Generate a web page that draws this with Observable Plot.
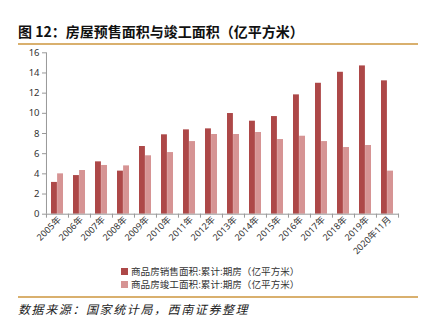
<!DOCTYPE html>
<html><head><meta charset="utf-8">
<script src="https://cdn.jsdelivr.net/npm/d3@7"></script>
<script src="https://cdn.jsdelivr.net/npm/@observablehq/plot@0.6"></script>
<style>
body{margin:0;width:425px;height:323px;position:relative;background:#fff;font-family:"Noto Sans CJK SC","Noto Sans",sans-serif;overflow:hidden}
#title{position:absolute;left:18px;top:21px;font-size:14px;font-weight:bold;color:#111;white-space:nowrap}
.rule{position:absolute;left:18px;width:400px;height:2px;background:#D9B06E}
#chart{position:absolute;left:0;top:45px}
#legend{position:absolute;left:121px;top:265px;font-size:9.6px;color:#333}
#legend div{white-space:nowrap;height:13px;line-height:13px}
#legend span.sw{display:inline-block;width:7px;height:7px;margin-right:3px;vertical-align:0px}
#source{position:absolute;left:18px;top:300px;font-size:12px;font-style:italic;color:#222;letter-spacing:1.6px;white-space:nowrap}
</style></head>
<body>
<div id="title">图 12：房屋预售面积与竣工面积（亿平方米）</div>
<div class="rule" style="top:43px"></div>
<div id="chart"></div>
<div id="legend"></div>
<div class="rule" style="top:296px"></div>
<div id="source">数据来源：国家统计局，西南证券整理</div>
<script>
const years = ["2005年","2006年","2007年","2008年","2009年","2010年","2011年","2012年","2013年","2014年","2015年","2016年","2017年","2018年","2019年","2020年11月"];
const presale = [3.15,3.83,5.19,4.27,6.71,7.87,8.36,8.46,9.98,9.22,9.68,11.83,12.98,14.07,14.70,13.22];
const completed = [4.00,4.33,4.83,4.79,5.79,6.11,7.20,7.90,7.90,8.10,7.40,7.73,7.20,6.61,6.81,4.27];
const seriesNames = ["商品房销售面积:累计:期房（亿平方米）","商品房竣工面积:累计:期房（亿平方米）"];
const colors = ["#AD4848","#D69494"];
const yTicks = [0,2,4,6,8,10,12,14,16];

const W = 425, H = 220, mL = 46, mR = 26, mT = 7.3, mB = 51.3;
const step = (W - mL - mR) / years.length;
const pairW = 12.2;
const pi = 1 - pairW / step;
const half = pairW / 2;
const rows = years.map((y, i) => ({year: y, a: presale[i], b: completed[i]}));
const frameH = H - mT - mB;

const chart = Plot.plot({
  width: W, height: H,
  marginLeft: mL, marginRight: mR, marginTop: mT, marginBottom: mB,
  style: {fontFamily: '"Noto Sans", "Noto Sans CJK SC", sans-serif', fontSize: "9.5px", color: "#333"},
  x: {domain: years, type: "band", paddingInner: pi, paddingOuter: pi / 2, axis: null, label: null},
  y: {domain: [0, 16], axis: null, label: null},
  marks: [
    Plot.barY(rows, {x: "year", y: "a", fill: colors[0], insetRight: half, insetLeft: 0}),
    Plot.barY(rows, {x: "year", y: "b", fill: colors[1], insetLeft: half, insetRight: 0}),
    Plot.axisY({ticks: yTicks, tickSize: 4, tickPadding: 3, stroke: "#999", fill: "#333", fontSize: 9.5, label: null}),
    Plot.ruleX(years.slice(0, 1), {x: d => d, dx: -step / 2, stroke: "#999"}),
    Plot.ruleY([0], {stroke: "#999"}),
    Plot.ruleX(years, {x: d => d, dx: -step / 2, stroke: "#999", insetTop: frameH, insetBottom: -4}),
    Plot.ruleX(years.slice(-1), {x: d => d, dx: step / 2, stroke: "#999", insetTop: frameH, insetBottom: -4}),
    Plot.axisX({tickSize: 0, tickRotate: -45, tickPadding: 4, fontSize: 9, fill: "#333", textAnchor: "end", dx: 2, label: null})
  ]
});
document.getElementById("chart").appendChild(chart);

const lg = document.getElementById("legend");
seriesNames.forEach((n, i) => {
  const d = document.createElement("div");
  d.innerHTML = `<span class="sw" style="background:${colors[i]}"></span>${n}`;
  lg.appendChild(d);
});
</script>
</body></html>
